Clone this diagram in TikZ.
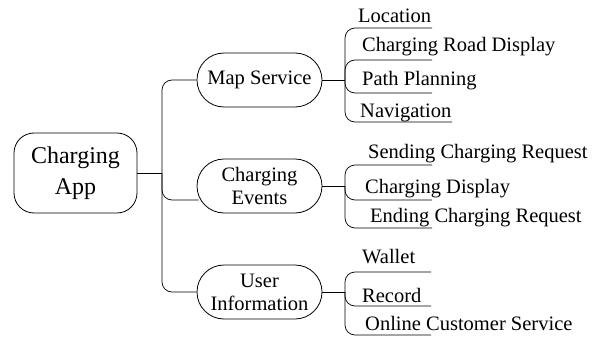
\documentclass[tikz,border=0pt]{standalone}
\usepackage{fontspec}
\setmainfont{Liberation Serif}
\begin{document}
\begin{tikzpicture}[x=1pt,y=-1pt,
  rootbox/.style={draw,line width=0.8pt,rounded corners=20pt,minimum width=123pt,minimum height=80pt,
    align=center,inner sep=0pt,font=\fontsize{24}{31}\selectfont},
  topic/.style={draw,line width=0.8pt,rounded corners=27pt,minimum width=125pt,minimum height=54pt,
    align=center,inner sep=0pt,font=\fontsize{20.5}{23}\selectfont},
  leaf/.style={anchor=base west,inner sep=0pt,font=\fontsize{20.5}{23}\selectfont},
  conn/.style={line width=0.7pt},
  elbow/.style={line width=0.7pt,rounded corners=10pt}]
\useasboundingbox (0,0) rectangle (597,337);

% central idea and its three topics
\node[rootbox] (root) at (75.5,173) {Charging\\App};
\node[topic] (ms) at (259.5,80) {Map Service};
\node[topic] (ce) at (259.5,186) {Charging\\Events};
\node[topic] (ui) at (259.5,292) {User\\Information};

% joints on the trunks
\coordinate (rj) at (162,173);
\coordinate (msj) at (345,80);
\coordinate (cej) at (345,186);
\coordinate (uij) at (345,292);

% leaf labels
\node[leaf] (loc) at (358,23) {Location};
\node[leaf] (crd) at (362,52) {Charging Road Display};
\node[leaf] (pp)  at (362,85) {Path Planning};
\node[leaf] (nav) at (360,117) {Navigation};
\node[leaf] (scr) at (368,158) {Sending Charging Request};
\node[leaf] (cd)  at (365,193) {Charging Display};
\node[leaf] (ecr) at (370,222) {Ending Charging Request};
\node[leaf] (wal) at (362,263) {Wallet};
\node[leaf] (rec) at (362,302) {Record};
\node[leaf] (ocs) at (365,330) {Online Customer Service};

% ends of the underlines
\coordinate (locE) at (432,28);
\coordinate (crdE) at (432,60);
\coordinate (ppE)  at (432,93);
\coordinate (navE) at (452,122);
\coordinate (scrE) at (432,165);
\coordinate (cdE)  at (432,200);
\coordinate (ecrE) at (432,228);
\coordinate (walE) at (431,272);
\coordinate (recE) at (431,306);
\coordinate (ocsE) at (431,335);

% central idea to topics
\draw[conn] (root.east) -- (rj);
\draw[elbow] (rj) |- (ms.west);
\draw[elbow] (rj) |- ([xshift=2pt,yshift=-14pt]ce.west);
\draw[elbow] (rj) |- (ui.west);

% topics to leaves
\draw[conn] (ms.east) -- (msj);
\foreach \e in {locE,crdE,ppE,navE} \draw[elbow] (msj) |- (\e);
\draw[conn] (ce.east) -- (cej);
\foreach \e in {scrE,cdE,ecrE} \draw[elbow] (cej) |- (\e);
\draw[conn] (ui.east) -- (uij);
\foreach \e in {walE,recE,ocsE} \draw[elbow] (uij) |- (\e);
\end{tikzpicture}
\end{document}
